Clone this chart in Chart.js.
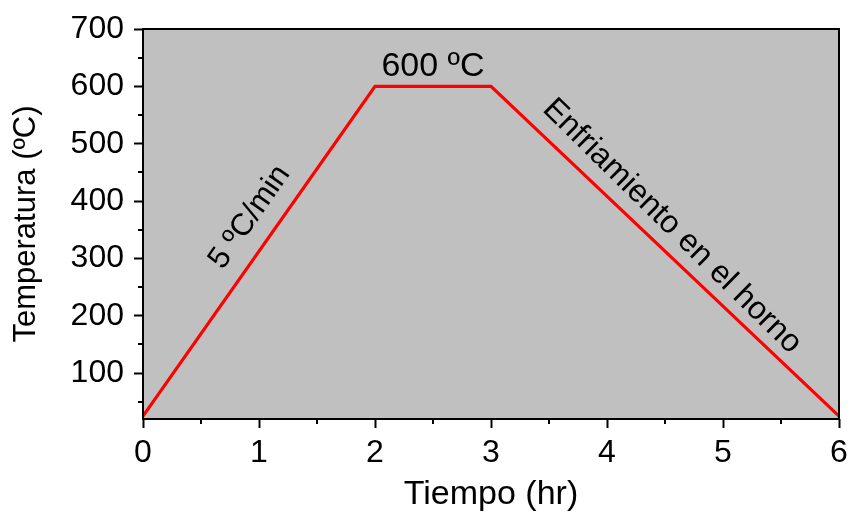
<!DOCTYPE html>
<html><head><meta charset="utf-8">
<script src="https://cdn.jsdelivr.net/npm/chart.js@4/dist/chart.umd.min.js"></script>
<style>html,body{margin:0;padding:0;background:#fff}#wrap{width:848px;height:512px}</style>
</head><body><div id="wrap"><canvas id="c" width="848" height="512"></canvas></div>
<script>
const timeHr = [0, 2, 3, 6];
const tempC = [25, 600, 600, 25];
const xMajorTicks = [0, 1, 2, 3, 4, 5, 6];
const xMinorTicks = [0.5, 1.5, 2.5, 3.5, 4.5, 5.5];
const yMajorTicks = [100, 200, 300, 400, 500, 600, 700];
const yMinorTicks = [50, 150, 250, 350, 450, 550, 650];
const annotationTexts = ['600 ºC', '5 ºC/min', 'Enfriamiento en el horno'];
const annotationX = [2.5, 0.92, 4.56];
const annotationY = [634, 372, 356];
const annotationAngle = [0, -55, 44.5];
const annotationSize = [34, 31, 32];

const FONT = "'Liberation Sans', Arial, sans-serif";

const framePlugin = {
  id: 'frame',
  beforeDatasetsDraw(chart) {
    const {ctx, chartArea: a} = chart;
    ctx.save();
    ctx.fillStyle = '#c0c0c0';
    ctx.fillRect(a.left, a.top, a.right - a.left, a.bottom - a.top);
    ctx.restore();
  },
  afterDatasetsDraw(chart) {
    const {ctx, chartArea: a, scales} = chart;
    ctx.save();
    ctx.strokeStyle = '#000';
    ctx.lineWidth = 2;
    ctx.beginPath();
    xMinorTicks.forEach(v => {
      const px = Math.round(scales.x.getPixelForValue(v));
      ctx.moveTo(px, a.bottom); ctx.lineTo(px, a.bottom + 5);
    });
    yMinorTicks.forEach(v => {
      const py = Math.round(scales.y.getPixelForValue(v));
      ctx.moveTo(a.left, py); ctx.lineTo(a.left - 5, py);
    });
    ctx.stroke();
    ctx.strokeRect(a.left, a.top, a.right - a.left, a.bottom - a.top);
    ctx.fillStyle = '#000';
    ctx.textAlign = 'center';
    ctx.textBaseline = 'middle';
    annotationTexts.forEach((t, i) => {
      const px = scales.x.getPixelForValue(annotationX[i]);
      const py = scales.y.getPixelForValue(annotationY[i]);
      ctx.save();
      ctx.font = annotationSize[i] + 'px ' + FONT;
      ctx.translate(px, py);
      ctx.rotate(annotationAngle[i] * Math.PI / 180);
      ctx.fillText(t, 0, 0);
      ctx.restore();
    });
    ctx.restore();
  }
};

new Chart(document.getElementById('c'), {
  type: 'scatter',
  data: {
    datasets: [{
      data: timeHr.map((t, i) => ({x: t, y: tempC[i]})),
      showLine: true,
      borderColor: '#ff0000',
      borderWidth: 3.2,
      pointRadius: 0,
      tension: 0,
      clip: false
    }]
  },
  options: {
    responsive: false,
    animation: false,
    devicePixelRatio: 1,
    layout: {padding: {top: 29, right: 9, left: 0, bottom: 0}},
    plugins: {legend: {display: false}, tooltip: {enabled: false}},
    scales: {
      x: {
        type: 'linear', min: 0, max: 6,
        afterBuildTicks: s => { s.ticks = xMajorTicks.map(v => ({value: v})); },
        afterFit: s => { s.height = 93; s.paddingLeft = 0; s.paddingRight = 0; },
        grid: {display: true, drawOnChartArea: false, drawTicks: true, tickLength: 9, tickColor: '#000', tickWidth: 2},
        border: {display: false},
        ticks: {color: '#000', font: {family: FONT, size: 32}, padding: 6, maxRotation: 0, autoSkip: false},
        title: {display: true, text: 'Tiempo (hr)', color: '#000', font: {family: FONT, size: 34, lineHeight: 1.0}, padding: {top: 0, bottom: 0}}
      },
      y: {
        type: 'linear', min: 20, max: 700,
        afterBuildTicks: s => { s.ticks = yMajorTicks.map(v => ({value: v})); },
        afterFit: s => { s.width = 143; s.paddingTop = 0; s.paddingBottom = 0; },
        grid: {display: true, drawOnChartArea: false, drawTicks: true, tickLength: 9, tickColor: '#000', tickWidth: 2},
        border: {display: false},
        ticks: {color: '#000', font: {family: FONT, size: 32}, padding: 10, autoSkip: false},
        title: {display: true, text: 'Temperatura (ºC)', color: '#000', font: {family: FONT, size: 31}, padding: {top: 8, bottom: 0}}
      }
    }
  },
  plugins: [framePlugin]
});
</script>
</body></html>
